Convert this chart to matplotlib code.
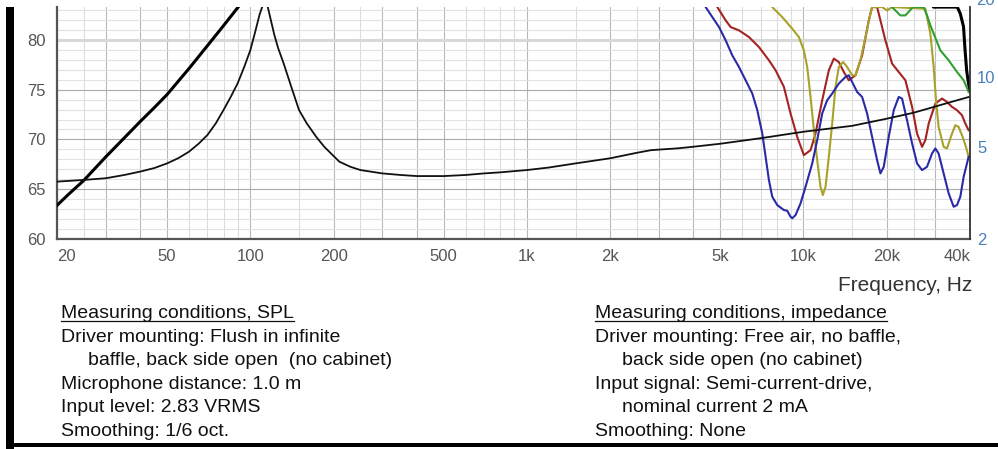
import matplotlib
matplotlib.use("Agg")
import matplotlib.pyplot as plt
from matplotlib.lines import Line2D
from matplotlib.patches import Rectangle
from matplotlib.ticker import NullLocator, FixedLocator, FixedFormatter

plt.rcParams['font.family'] = ['Liberation Sans', 'DejaVu Sans']

W, H = 998, 449

# SPL on-axis (dB), thick black line
spl_freq = [20, 22, 25, 30, 35, 40, 45, 50, 60, 70, 80, 90, 95, 100, 200, 1000, 5000, 20000, 28000,
            29500, 36000, 36900, 37900, 38400, 38900, 39500, 40000]
spl_db = [63.4, 64.5, 65.9, 68.25, 70.15, 71.8, 73.2, 74.5, 77.1, 79.4, 81.4, 83.2, 84.0, 85.0, 88, 90,
          92, 90, 85, 83.26, 83.26, 82.6, 81.3, 78.9, 76.9, 75.6, 75.0]

# impedance (ohm), thin black line on right axis
imp_freq = [20, 25, 30, 35, 40, 45, 50, 55, 60, 65, 70, 75, 80, 85, 90, 95, 100, 104, 108, 111, 113,
            115, 118, 122, 126, 132, 140, 150, 160, 173, 185, 195, 210, 230, 250, 300, 350, 400, 500,
            600, 700, 800, 1000, 1200, 1500, 2000, 2500, 2800, 3000, 3500, 4000, 5000, 7000, 10000,
            15000, 20000, 25000, 30000, 35000, 40000]
imp_ohm = [3.54, 3.60, 3.66, 3.78, 3.91, 4.05, 4.24, 4.47, 4.76, 5.15, 5.62, 6.3, 7.19, 8.2, 9.37, 11.0,
           13.0, 15.5, 18.5, 20.3, 21.0, 20.5, 18.0, 15.2, 13.3, 11.4, 9.2, 7.19, 6.3, 5.52, 5.0, 4.7,
           4.31, 4.1, 3.97, 3.84, 3.78, 3.74, 3.74, 3.78, 3.84, 3.88, 3.97, 4.07, 4.24, 4.46, 4.71,
           4.83, 4.86, 4.92, 5.0, 5.15, 5.44, 5.80, 6.15, 6.6, 7.0, 7.45, 7.85, 8.21]

# off-axis style curves (dB)
red_freq = [4600, 4882, 5232, 5453, 5844, 6352, 6902, 7500, 7928, 8498, 8980, 9492, 10032, 10606,
            11056, 11686, 12350, 12876, 13420, 13990, 14584, 15416, 16294, 17220, 17706, 18458,
            18974, 19780, 20908, 22100, 23360, 24700, 25740, 26840, 27580, 28360, 29980, 31700,
            33020, 34440, 35900, 37420, 38460, 39540]
red_db = [85.5, 83.26, 81.93, 81.26, 80.93, 80.26, 79.26, 77.93, 76.93, 75.26, 72.6, 70.26, 68.43,
          68.93, 70.6, 73.93, 76.93, 78.1, 77.76, 76.76, 75.93, 76.43, 78.43, 81.93, 83.26, 83.26,
          81.93, 79.93, 77.6, 76.76, 75.93, 73.26, 70.6, 69.26, 69.93, 71.6, 73.6, 74.1, 73.76,
          73.26, 72.93, 72.43, 71.6, 70.93]

olive_freq = [7300, 7711, 8380, 9104, 9626, 10032, 10316, 10606, 10904, 11210, 11524, 11750, 12014,
              12350, 12700, 13054, 13420, 13912, 14384, 14996, 15416, 16068, 16750, 17460, 17706,
              19242, 20056, 20908, 27580, 28760, 29560, 30140, 30800, 32120, 33020, 34440, 35400,
              36380, 37620, 38680, 39540]
olive_db = [85.5, 83.26, 82.26, 81.1, 80.26, 78.93, 77.26, 74.26, 70.93, 67.93, 65.26, 64.43, 65.26,
            68.26, 71.6, 75.26, 77.26, 77.76, 77.26, 76.43, 76.43, 77.93, 80.26, 82.6, 83.26, 83.26,
            82.93, 83.26, 83.1, 80.6, 77.26, 73.93, 71.26, 69.26, 69.1, 70.6, 71.43, 71.26, 70.26,
            69.26, 68.26]

green_freq = [20300, 20908, 21612, 22400, 23360, 24140, 24830, 27200, 27960, 28760, 29560, 31250,
              33490, 35900, 37940, 39540]
green_db = [85.5, 83.26, 82.86, 82.43, 82.43, 82.86, 83.26, 83.26, 82.43, 81.43, 80.6, 78.93, 77.93,
            76.76, 75.93, 74.76]

blue_freq = [4200, 4430, 4682, 4950, 5232, 5528, 5844, 6178, 6530, 6808, 7096, 7296, 7500, 7711, 8038,
             8498, 8736, 8980, 9104, 9362, 9760, 10172, 10754, 11210, 11686, 12180, 12700, 13420,
             14186, 14584, 14996, 15630, 16294, 16984, 17706, 18458, 18974, 19508, 20334, 21200,
             22100, 22720, 23680, 24700, 25740, 26840, 27960, 29160, 29980, 30800, 32120, 33490,
             34910, 35900, 36900, 37940, 39540]
blue_db = [85.5, 83.26, 82.26, 81.26, 79.93, 78.43, 77.26, 75.93, 74.6, 72.93, 70.6, 68.26, 65.93,
           64.26, 63.43, 62.93, 62.86, 62.26, 62.1, 62.43, 63.6, 65.26, 67.6, 69.93, 72.6, 73.93,
           74.6, 75.6, 76.26, 76.43, 75.76, 74.76, 74.26, 72.6, 70.26, 67.93, 66.6, 67.26, 70.26,
           72.93, 74.26, 74.1, 71.93, 69.6, 67.6, 66.93, 67.26, 68.6, 69.1, 68.6, 66.6, 64.6, 63.26,
           63.43, 64.26, 66.26, 68.26]

xtick_vals = [20, 50, 100, 200, 500, 1000, 2000, 5000, 10000, 20000, 40000]
xtick_text = ['20', '50', '100', '200', '500', '1k', '2k', '5k', '10k', '20k', '40k']
spl_ticks = [60, 65, 70, 75, 80]
imp_ticks = [2, 5, 10]

# (text, indented?)
notes_spl = [("Measuring conditions, SPL", False),
             ("Driver mounting: Flush in infinite", False),
             ("baffle, back side open  (no cabinet)", True),
             ("Microphone distance: 1.0 m", False),
             ("Input level: 2.83 VRMS", False),
             ("Smoothing: 1/6 oct.", False)]
notes_imp = [("Measuring conditions, impedance", False),
             ("Driver mounting: Free air, no baffle,", False),
             ("back side open (no cabinet)", True),
             ("Input signal: Semi-current-drive,", False),
             ("nominal current 2 mA", True),
             ("Smoothing: None", False)]

fig = plt.figure(figsize=(W / 100, H / 100), dpi=100)
ax_left, ax_right, ax_top, ax_bot = 57, 970, 6.7, 239.3
ax = fig.add_axes([ax_left / W, 1 - ax_bot / H, (ax_right - ax_left) / W, (ax_bot - ax_top) / H])
ax.set_xscale('log')
ax.set_xlim(20, 40000)
ax.set_ylim(60, 83.3)

# grid
for dec in [10, 100, 1000, 10000]:
    for m in [1, 1.5, 2, 2.5, 3, 4, 5, 6, 7, 8, 9]:
        f = dec * m
        if 20 < f < 40000:
            dark = m in (1, 2, 3, 4, 5)
            ax.axvline(f, color='#b8b8b8' if dark else '#dcdcdc', lw=0.8, zorder=0)
for v in range(61, 84):
    if v % 5 == 0:
        ax.axhline(v, color='#aaaaaa', lw=0.8, zorder=0)
    else:
        ax.axhline(v, color='#e2e2e2', lw=0.8, zorder=0)
ax.axhline(80, color='#d8d8d8', lw=2.2, zorder=0)

ax.plot(red_freq, red_db, color='#a52222', lw=1.5, zorder=3)
ax.plot(olive_freq, olive_db, color='#a8a22a', lw=1.5, zorder=3)
ax.plot(green_freq, green_db, color='#30a030', lw=1.5, zorder=3)
ax.plot(blue_freq, blue_db, color='#2a2aa8', lw=1.5, zorder=3)
ax.plot(spl_freq, spl_db, color='black', lw=2.2, zorder=4)

ax2 = ax.twinx()
ax2.set_yscale('log')
ax2.set_ylim(2, 20)
ax2.plot(imp_freq, imp_ohm, color='#111111', lw=1.3)

ax.spines['top'].set_visible(False)
ax2.spines['top'].set_visible(False)
ax.spines['left'].set_color('#555555')
ax.spines['left'].set_linewidth(1.6)
ax.spines['bottom'].set_color('#555555')
ax.spines['bottom'].set_linewidth(1.6)
ax.spines['right'].set_visible(False)
ax2.spines['left'].set_visible(False)
ax2.spines['bottom'].set_visible(False)
ax2.spines['right'].set_color('#333333')
ax2.spines['right'].set_linewidth(1.3)

ax.xaxis.set_major_locator(FixedLocator(xtick_vals))
ax.xaxis.set_major_formatter(FixedFormatter(xtick_text))
ax.xaxis.set_minor_locator(NullLocator())
ax.set_yticks(spl_ticks)
ax.tick_params(axis='both', length=0, labelsize=12, labelcolor='#555555')
ax.tick_params(axis='x', pad=7)
ax.tick_params(axis='y', pad=8)
labs = ax.get_xticklabels()
labs[0].set_ha('left')
labs[-1].set_ha('right')

ax2.yaxis.set_major_locator(FixedLocator(imp_ticks))
ax2.yaxis.set_major_formatter(FixedFormatter([str(t) for t in imp_ticks]))
ax2.yaxis.set_minor_locator(NullLocator())
ax2.tick_params(axis='y', length=0, labelsize=12, labelcolor='#4a80b8', pad=5)
# the "20" label sits half outside the cropped top edge
fig.text(976 / W, 1 - 0.5 / H, "20", ha='left', va='center', fontsize=12, color='#4a80b8')

fig.text(972 / W, 1 - 291 / H, "Frequency, Hz", ha='right', va='baseline', fontsize=15, color='#333333')

baselines = [318, 341.6, 365.2, 388.8, 412.4, 436]
heads = []
for lines, x0 in [(notes_spl, 61), (notes_imp, 595)]:
    for i, ((txt, ind), yb) in enumerate(zip(lines, baselines)):
        xx = x0 + (27 if ind else 0)
        t = fig.text(xx / W, 1 - yb / H, txt, ha='left', va='baseline', fontsize=14, color='#111111')
        if i == 0:
            heads.append((t, yb))

fig.canvas.draw()
r = fig.canvas.get_renderer()
for t, yb in heads:
    bb = t.get_window_extent(r)
    yu = 1 - (yb + 2.5) / H
    fig.add_artist(Line2D([bb.x0 / W, bb.x1 / W], [yu, yu], transform=fig.transFigure,
                          color='#111111', lw=0.9))

# black frame pieces from the cropped page
fig.add_artist(Rectangle((6 / W, 0), 8 / W, 1 - 6.7 / H, transform=fig.transFigure,
                         color='black', lw=0))
fig.add_artist(Rectangle((6 / W, 2 / H), 1, 4.5 / H, transform=fig.transFigure,
                         color='black', lw=0))

fig.savefig('out.png', dpi=100)
